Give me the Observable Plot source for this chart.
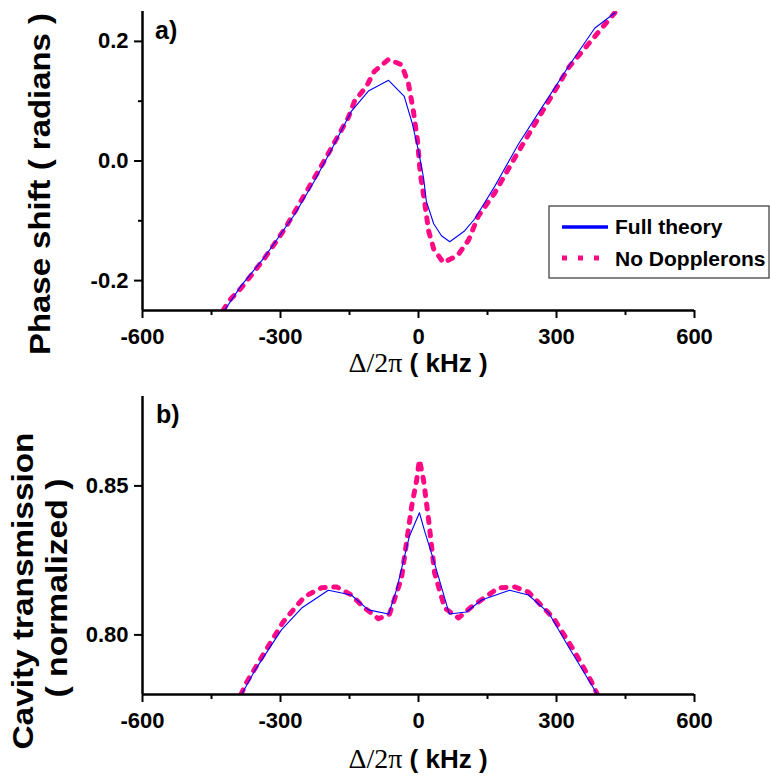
<!DOCTYPE html>
<html><head><meta charset="utf-8">
<script src="https://cdn.jsdelivr.net/npm/d3@7"></script>
<script src="https://cdn.jsdelivr.net/npm/@observablehq/plot@0.6"></script>
<style>
body{margin:0;background:#fff;}
#chart{position:relative;width:770px;height:779px;background:#fff;}
#chart svg{display:block;}
</style></head><body><div id="chart"></div>
<script>
// ---- data (kHz, value) ----
const xTicks = [-600, -300, 0, 300, 600];
const xMinorTicks = [-450, -150, 150, 450];
const yTicksA = [-0.2, 0.0, 0.2];
const yMinorTicksA = [-0.1, 0.1];
const yTicksB = [0.80, 0.85];
const seriesNames = ["Full theory", "No Dopplerons"];

const phaseFullX = [-422, -385, -335, -269, -226, -183, -146, -109, -65, -31, -14, 0, 11, 17, 33, 50, 68, 100, 122, 166, 217, 267, 326, 383, 427];
const phaseFullY = [-0.25, -0.208, -0.161, -0.089, -0.033, 0.028, 0.083, 0.117, 0.135, 0.108, 0.064, 0.017, -0.028, -0.067, -0.105, -0.125, -0.135, -0.117, -0.097, -0.042, 0.028, 0.088, 0.158, 0.222, 0.248];

const phaseNoDopX = [-425, -411, -385, -335, -291, -211, -153, -139, -113, -96, -65, -37, -22, -11, -2, 4, 13, 22, 33, 54, 85, 109, 130, 166, 209, 267, 328, 427];
const phaseNoDopY = [-0.25, -0.233, -0.212, -0.163, -0.114, -0.008, 0.072, 0.1, 0.125, 0.15, 0.17, 0.161, 0.13, 0.083, 0.033, -0.022, -0.067, -0.117, -0.147, -0.17, -0.158, -0.132, -0.092, -0.053, 0.005, 0.08, 0.158, 0.248];

const transFullX = [-383, -356, -298, -254, -196, -146, -109, -65, -48, -20, 2, 13, 33, 50, 67, 104, 137, 198, 239, 283, 326, 387];
const transFullY = [0.7805, 0.788, 0.8017, 0.809, 0.815, 0.8134, 0.8084, 0.807, 0.815, 0.833, 0.841, 0.835, 0.825, 0.816, 0.807, 0.8077, 0.8117, 0.815, 0.8134, 0.8074, 0.796, 0.7805];

const transNoDopX = [-386, -374, -335, -294, -248, -211, -178, -146, -120, -87, -63, -37, -15, -4, 2, 11, 22, 35, 57, 87, 115, 174, 209, 239, 293, 337, 376, 389];
const transNoDopY = [0.78, 0.784, 0.794, 0.8044, 0.8128, 0.8158, 0.8161, 0.8134, 0.8094, 0.8054, 0.807, 0.819, 0.843, 0.852, 0.8587, 0.852, 0.8386, 0.8208, 0.809, 0.8057, 0.8094, 0.8158, 0.8161, 0.8144, 0.8057, 0.795, 0.7843, 0.78];

const BLUE = "#0000ff";
const PINK = "#ff0a85";
const DASH = "5 8.5";
const SANS = "'Liberation Sans', Arial, Helvetica, sans-serif";
const SERIF = "'Liberation Serif', 'Times New Roman', serif";

const toRows = (xs, ys) => xs.map((x, i) => ({x, y: ys[i]}));

function panel({full, nodop, yDomain, yTicks, yMinor, fmt, height, marginBottom}) {
  const marks = [
    Plot.line(nodop, {x: "x", y: "y", stroke: PINK, strokeWidth: 5, strokeDasharray: DASH, clip: true}),
    Plot.line(full, {x: "x", y: "y", stroke: BLUE, strokeWidth: 1.1, clip: true}),
    Plot.axisX(xTicks, {tickSize: 8, tickPadding: 10, strokeWidth: 2, tickFormat: d => String(d), label: null}),
    Plot.axisX(xMinorTicks, {tickSize: 5, strokeWidth: 2, tickFormat: () => "", label: null}),
    Plot.axisY(yTicks, {tickSize: 8, tickPadding: 6, strokeWidth: 2, tickFormat: fmt, label: null}),
    Plot.ruleY([yDomain[0]], {strokeWidth: 2.5}),
    Plot.ruleX([-600], {strokeWidth: 2.5})
  ];
  if (yMinor) marks.push(Plot.axisY(yMinor, {tickSize: 4, strokeWidth: 2, tickFormat: () => "", label: null}));
  return Plot.plot({
    width: 770, height, marginLeft: 142, marginRight: 76, marginTop: 11, marginBottom,
    x: {domain: [-600, 600]},
    y: {domain: yDomain},
    style: {fontFamily: SANS, fontSize: "22px", fontWeight: "bold", color: "#000", background: "#fff", overflow: "visible"},
    marks
  });
}

const chart = document.getElementById("chart");

// Panel a
const svgA = panel({
  full: toRows(phaseFullX, phaseFullY), nodop: toRows(phaseNoDopX, phaseNoDopY),
  yDomain: [-0.25, 0.25], yTicks: yTicksA, yMinor: yMinorTicksA, fmt: d => d.toFixed(1),
  height: 385, marginBottom: 75
});
chart.appendChild(svgA);

// Panel b
const svgB = panel({
  full: toRows(transFullX, transFullY), nodop: toRows(transNoDopX, transNoDopY),
  yDomain: [0.78, 0.88], yTicks: yTicksB, yMinor: null, fmt: d => d.toFixed(2),
  height: 394, marginBottom: 85
});
chart.appendChild(svgB);

function xLabel(svg, baseline) {
  const t = d3.select(svg).append("text").attr("x", 418).attr("y", baseline)
    .attr("text-anchor", "middle").attr("fill", "#000");
  t.append("tspan").attr("font-family", SERIF).attr("font-weight", "normal").attr("font-size", 28).text("Δ/2π");
  t.append("tspan").attr("font-family", SANS).attr("font-weight", "bold").attr("font-size", 26).text(" ( kHz )");
}
function rotLabel(svg, x, y, txt, len) {
  d3.select(svg).append("text").attr("transform", `translate(${x},${y}) rotate(-90)`)
    .attr("text-anchor", "middle").attr("font-family", SANS).attr("font-weight", "bold")
    .attr("font-size", 30).attr("textLength", len).attr("lengthAdjust", "spacingAndGlyphs")
    .attr("fill", "#000").text(txt);
}
function tag(svg, x, y, txt) {
  d3.select(svg).append("text").attr("x", x).attr("y", y).attr("text-anchor", "start").attr("font-family", SANS)
    .attr("font-weight", "bold").attr("font-size", 25).attr("fill", "#000").text(txt);
}

xLabel(svgA, 372);
xLabel(svgB, 383);
rotLabel(svgA, 50, 184, "Phase shift ( radians )", 342);
rotLabel(svgB, 33, 206, "Cavity transmission", 317);
rotLabel(svgB, 67, 203, "( normalized )", 219);
tag(svgA, 155, 39, "a)");
tag(svgB, 156, 38, "b)");

// Legend (panel a)
const lg = d3.select(svgA).append("g");
lg.append("rect").attr("x", 549).attr("y", 206).attr("width", 220).attr("height", 72)
  .attr("fill", "#fff").attr("stroke", "#444").attr("stroke-width", 1.3);
lg.append("line").attr("x1", 562).attr("x2", 608).attr("y1", 227).attr("y2", 227)
  .attr("stroke", BLUE).attr("stroke-width", 3.5);
lg.append("line").attr("x1", 562).attr("x2", 604).attr("y1", 258).attr("y2", 258)
  .attr("stroke", PINK).attr("stroke-width", 5).attr("stroke-dasharray", "5 11");
lg.selectAll("text.lt").data(seriesNames).join("text").attr("class", "lt")
  .attr("x", 615).attr("y", (d, i) => 234 + i * 32).attr("text-anchor", "start")
  .attr("font-family", SANS).attr("font-weight", "bold").attr("font-size", 21).attr("fill", "#000")
  .text(d => d);
</script></body></html>
